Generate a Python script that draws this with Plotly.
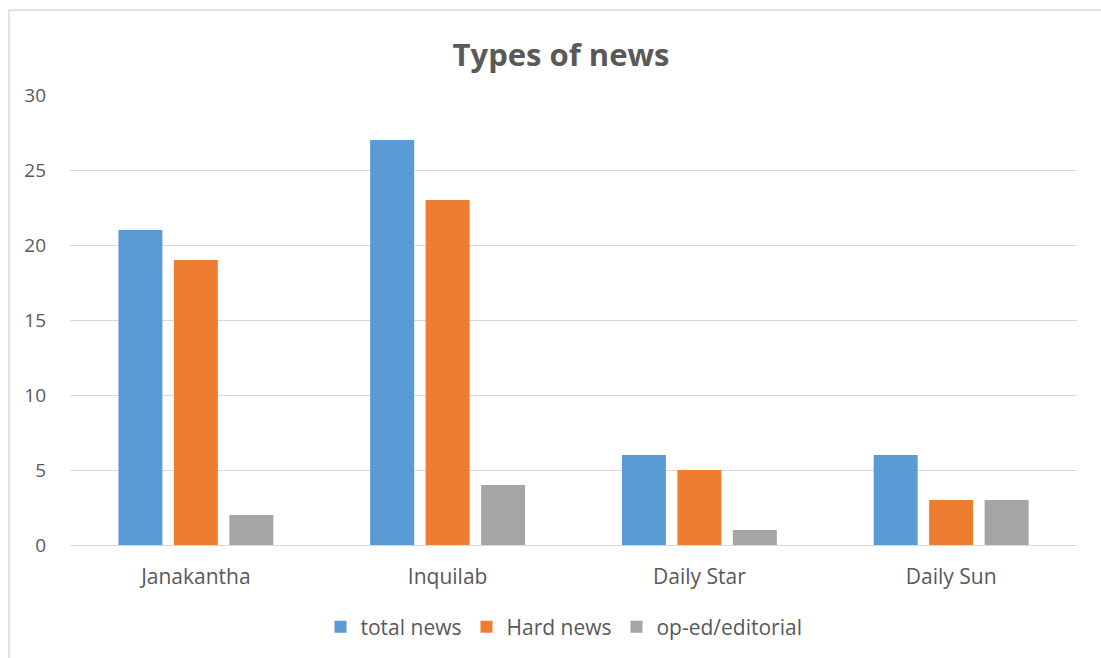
import plotly.graph_objects as go

categories = ["Janakantha", "Inquilab", "Daily Star", "Daily Sun"]
total_news = [21, 27, 6, 6]
hard_news = [19, 23, 5, 3]
op_ed = [2, 4, 1, 3]
series_names = ["total news", "Hard news", "op-ed/editorial"]
colors = ["#5B9BD5", "#ED7D31", "#A5A5A5"]
y_ticks = [0, 5, 10, 15, 20, 25, 30]

FONT = "Open Sans"
TXT = "#595959"

fig = go.Figure()
for name, vals, col in zip(series_names, [total_news, hard_news, op_ed], colors):
    fig.add_trace(go.Bar(x=categories, y=vals, name=name, marker_color=col,
                         marker_line_width=0))

fig.update_layout(
    width=1101, height=658,
    margin=dict(l=70, r=24, t=95, b=112),
    paper_bgcolor="white", plot_bgcolor="white",
    barmode="group", bargap=0.339, bargroupgap=0.207,
    font=dict(family=FONT, color=TXT, size=19),
    title=dict(text="<b>Types of news</b>", x=(561) / 1101, xanchor="center",
               y=1 - 55 / 658, yanchor="middle", yref="container",
               font=dict(family=FONT, size=31, color=TXT)),
    legend=dict(orientation="h", x=(564 - 70) / 1007, xanchor="center",
                y=(546 - 627) / 451, yanchor="middle",
                font=dict(family=FONT, size=21, color=TXT),
                itemwidth=30, traceorder="normal"),
    xaxis=dict(showgrid=False, showline=True, linecolor="#D9D9D9", linewidth=1.3,
               ticks="", ticklabelstandoff=13, tickfont=dict(size=21, color=TXT)),
    yaxis=dict(range=[0, 30], tickvals=y_ticks, showgrid=True, gridcolor="#D9D9D9",
               gridwidth=1.3, zeroline=False, showline=False, ticks="",
               ticklabelstandoff=23, tickfont=dict(size=19, color=TXT)),
    shapes=[dict(type="rect", xref="paper", yref="paper",
                 x0=(9 - 70) / 1007, x1=(1110 - 70) / 1007,
                 y0=(546 - 670) / 451, y1=(546 - 10) / 451,
                 line=dict(color="#D9D9D9", width=1.5), fillcolor="rgba(0,0,0,0)",
                 layer="below")],
)

fig.write_html("out.html")
